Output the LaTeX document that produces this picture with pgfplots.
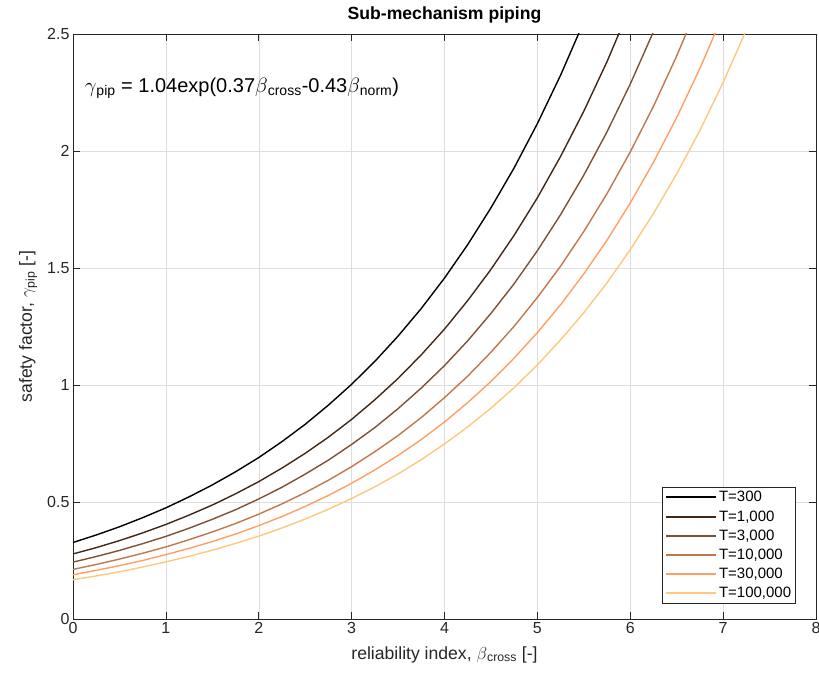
\documentclass[border=0pt]{standalone}
\usepackage{fontspec}
\setmainfont{Liberation Sans}
\usepackage{pgfplots}
\pgfplotsset{compat=1.18}
\definecolor{axgray}{rgb}{0.15,0.15,0.15}
\definecolor{c1}{rgb}{0,0,0}
\definecolor{c2}{rgb}{0.25,0.15624,0.0995}
\definecolor{c3}{rgb}{0.5,0.3125,0.199}
\definecolor{c4}{rgb}{0.75,0.4687,0.2985}
\definecolor{c5}{rgb}{1,0.6250,0.398}
\definecolor{c6}{rgb}{1,0.7812,0.4975}
\begin{document}
\begin{tikzpicture}
\path[use as bounding box] (-73pt,-56pt) rectangle (746pt,619pt);
\begin{axis}[
  at={(0pt,0pt)}, anchor=south west,
  scale only axis, width=743pt, height=585pt,
  xmin=0, xmax=8, ymin=0, ymax=2.5,
  xtick={0,1,...,8}, ytick={0,0.5,1,1.5,2,2.5},
  /pgf/number format/assume math mode=true,
  tick label style={font=\fontsize{16}{18}\selectfont, color=axgray},
  xlabel style={at={(axis description cs:0.5,-0.0684)}, anchor=base, font=\fontsize{17.6}{20}\selectfont, color=axgray},
  ylabel style={at={(axis description cs:-0.0555,0.5)}, anchor=base, font=\fontsize{17.6}{20}\selectfont, color=axgray},
  tick align=inside, major tick length=7pt,
  every tick/.style={axgray, line width=0.6pt},
  axis line style={axgray, line width=0.6pt},
  grid=major, grid style={color=black!13, line width=0.5pt},
  xlabel={reliability index, $\beta$\textsubscript{cross} [-]},
  ylabel={safety factor, $\gamma$\textsubscript{pip} [-]},
  title={Sub-mechanism piping},
  title style={font=\bfseries\fontsize{17.6}{20}\selectfont, at={(axis description cs:0.5,1)}, anchor=base, yshift=8pt},
  legend style={at={(0.973,0.0256)}, anchor=south east, draw=axgray, line width=0.6pt,
    font=\fontsize{15}{17}\selectfont, row sep=3.2pt, inner xsep=2.5pt, inner ysep=2.5pt},
  legend cell align=left,
  legend image code/.code={\draw[#1, line width=2pt] (12pt,0pt) -- (62pt,0pt);},
  every axis plot/.append style={line width=1.4pt},
]
\addplot[c1] coordinates {(0,0.327) (0.25,0.359) (0.5,0.394) (0.75,0.433) (1,0.475) (1.25,0.522) (1.5,0.573) (1.75,0.629) (2,0.690) (2.25,0.758) (2.5,0.832) (2.75,0.914) (3,1.003) (3.25,1.101) (3.5,1.209) (3.75,1.327) (4,1.457) (4.25,1.600) (4.5,1.757) (4.75,1.928) (5,2.117) (5.25,2.324) (5.5,2.552)};
\addlegendentry{T=300}
\addplot[c2] coordinates {(0,0.278) (0.25,0.305) (0.5,0.335) (0.75,0.368) (1,0.404) (1.25,0.444) (1.5,0.487) (1.75,0.535) (2,0.587) (2.25,0.645) (2.5,0.708) (2.75,0.777) (3,0.853) (3.25,0.937) (3.5,1.028) (3.75,1.129) (4,1.239) (4.25,1.361) (4.5,1.494) (4.75,1.640) (5,1.800) (5.25,1.977) (5.5,2.170) (5.75,2.382) (6,2.616)};
\addlegendentry{T=1,000}
\addplot[c3] coordinates {(0,0.243) (0.25,0.267) (0.5,0.293) (0.75,0.322) (1,0.353) (1.25,0.388) (1.5,0.426) (1.75,0.467) (2,0.513) (2.25,0.563) (2.5,0.619) (2.75,0.679) (3,0.746) (3.25,0.818) (3.5,0.899) (3.75,0.987) (4,1.083) (4.25,1.189) (4.5,1.306) (4.75,1.433) (5,1.574) (5.25,1.728) (5.5,1.897) (5.75,2.082) (6,2.286) (6.25,2.510)};
\addlegendentry{T=3,000}
\addplot[c4] coordinates {(0,0.212) (0.25,0.233) (0.5,0.256) (0.75,0.281) (1,0.308) (1.25,0.339) (1.5,0.372) (1.75,0.408) (2,0.448) (2.25,0.492) (2.5,0.540) (2.75,0.593) (3,0.651) (3.25,0.715) (3.5,0.784) (3.75,0.861) (4,0.946) (4.25,1.038) (4.5,1.140) (4.75,1.251) (5,1.374) (5.25,1.508) (5.5,1.656) (5.75,1.818) (6,1.996) (6.25,2.191) (6.5,2.406) (6.75,2.641)};
\addlegendentry{T=10,000}
\addplot[c5] coordinates {(0,0.189) (0.25,0.208) (0.5,0.228) (0.75,0.250) (1,0.275) (1.25,0.302) (1.5,0.331) (1.75,0.363) (2,0.399) (2.25,0.438) (2.5,0.481) (2.75,0.528) (3,0.580) (3.25,0.637) (3.5,0.699) (3.75,0.767) (4,0.842) (4.25,0.925) (4.5,1.015) (4.75,1.115) (5,1.224) (5.25,1.343) (5.5,1.475) (5.75,1.619) (6,1.778) (6.25,1.952) (6.5,2.143) (6.75,2.353) (7,2.583)};
\addlegendentry{T=30,000}
\addplot[c6] coordinates {(0,0.168) (0.25,0.184) (0.5,0.202) (0.75,0.222) (1,0.244) (1.25,0.268) (1.5,0.294) (1.75,0.323) (2,0.354) (2.25,0.389) (2.5,0.427) (2.75,0.469) (3,0.515) (3.25,0.565) (3.5,0.620) (3.75,0.681) (4,0.748) (4.25,0.821) (4.5,0.901) (4.75,0.989) (5,1.086) (5.25,1.193) (5.5,1.309) (5.75,1.437) (6,1.578) (6.25,1.733) (6.5,1.902) (6.75,2.088) (7,2.293) (7.25,2.517)};
\addlegendentry{T=100,000}
\node[anchor=base west, font=\fontsize{20}{22}\selectfont, inner sep=0pt] at (axis cs:0.125,2.25)
  {$\gamma$\textsubscript{pip} = 1.04exp(0.37$\beta$\textsubscript{cross}-0.43$\beta$\textsubscript{norm})};
\end{axis}
\end{tikzpicture}
\end{document}
